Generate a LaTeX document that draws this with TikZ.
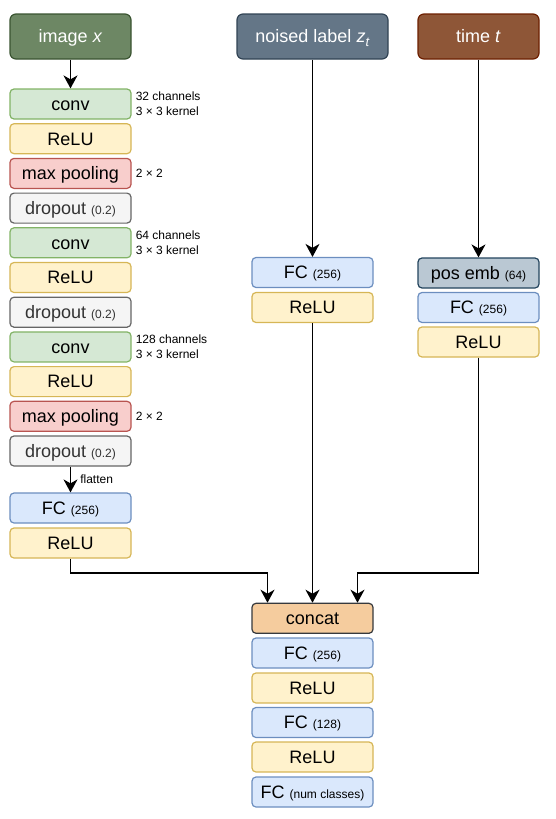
\documentclass[tikz,border=0pt]{standalone}
\usepackage{fontspec}
\setmainfont{Liberation Sans}
\usetikzlibrary{arrows.meta,positioning,calc}
\definecolor{imgfill}{HTML}{6D8764}\definecolor{imgdraw}{HTML}{3A5431}
\definecolor{nzfill}{HTML}{647687}\definecolor{nzdraw}{HTML}{314354}
\definecolor{tmfill}{HTML}{8E5637}\definecolor{tmdraw}{HTML}{6D1F00}
\definecolor{convfill}{HTML}{D5E8D4}\definecolor{convdraw}{HTML}{82B366}
\definecolor{relufill}{HTML}{FFF2CC}\definecolor{reludraw}{HTML}{D6B656}
\definecolor{poolfill}{HTML}{F8CECC}\definecolor{pooldraw}{HTML}{B85450}
\definecolor{dropfill}{HTML}{F5F5F5}\definecolor{dropdraw}{HTML}{666666}
\definecolor{fcfill}{HTML}{DAE8FC}\definecolor{fcdraw}{HTML}{6C8EBF}
\definecolor{pefill}{HTML}{BAC8D3}\definecolor{pedraw}{HTML}{23445D}
\definecolor{catfill}{HTML}{F5CC9E}\definecolor{catdraw}{HTML}{36393D}
\definecolor{txtgray}{HTML}{333333}
\newcommand\smtxt[1]{{\fontsize{12}{14}\selectfont #1}}
\begin{document}
\begin{tikzpicture}[x=1pt,y=-1pt,
  blk/.style={rectangle,rounded corners=4pt,minimum width=121pt,minimum height=30pt,
    inner sep=0pt,line width=1.2pt,font=\fontsize{18}{20}\selectfont,
    text height=12.6pt,text depth=0pt},
  hdr/.style={blk,minimum height=45pt,rounded corners=6pt,text=white},
  convbox/.style={blk,fill=convfill,draw=convdraw},
  relubox/.style={blk,fill=relufill,draw=reludraw},
  poolbox/.style={blk,fill=poolfill,draw=pooldraw},
  dropbox/.style={blk,fill=dropfill,draw=dropdraw,text=txtgray},
  fcbox/.style={blk,fill=fcfill,draw=fcdraw},
  pebox/.style={blk,fill=pefill,draw=pedraw},
  catbox/.style={blk,fill=catfill,draw=catdraw},
  side/.style={anchor=west,inner sep=0pt,align=left,font=\fontsize{12}{15}\selectfont},
  arr/.style={line width=1.5pt,-{Stealth[length=13pt,width=14pt,inset=4pt]}}]
\useasboundingbox (0,0) rectangle (556,819);
% headers
\node[hdr,fill=imgfill,draw=imgdraw] (imgx) at (70.5,36.5) {image \textit{x}};
\node[hdr,fill=nzfill,draw=nzdraw,minimum width=151pt] (noised) at (312.5,36.5) {noised label \textit{z}\raisebox{-0.4ex}{\fontsize{13}{13}\selectfont\textit{t}}};
\node[hdr,fill=tmfill,draw=tmdraw] (timet) at (478.5,36.5) {time \textit{t}};
% left column
\node[convbox] (conv1) at (70.5,104) {conv};
\node[relubox] (relua) at (70.5,138.7) {ReLU};
\node[poolbox] (pool1) at (70.5,173.4) {max pooling};
\node[dropbox] (drop1) at (70.5,208.1) {dropout \smtxt{(0.2)}};
\node[convbox] (conv2) at (70.5,242.8) {conv};
\node[relubox] (relub) at (70.5,277.5) {ReLU};
\node[dropbox] (drop2) at (70.5,312.2) {dropout \smtxt{(0.2)}};
\node[convbox] (conv3) at (70.5,346.9) {conv};
\node[relubox] (reluc) at (70.5,381.6) {ReLU};
\node[poolbox] (pool2) at (70.5,416.3) {max pooling};
\node[dropbox] (drop3) at (70.5,451) {dropout \smtxt{(0.2)}};
\node[fcbox] (fca) at (70.5,508) {FC \smtxt{(256)}};
\node[relubox] (relud) at (70.5,543) {ReLU};
% side labels
\node[side] (s1) at ([xshift=4pt]conv1.east) {32 channels\\3 × 3 kernel};
\node[side] (s2) at ([xshift=4pt]pool1.east) {2 × 2};
\node[side] (s3) at ([xshift=4pt]conv2.east) {64 channels\\3 × 3 kernel};
\node[side] (s4) at ([xshift=4pt]conv3.east) {128 channels\\3 × 3 kernel};
\node[side] (s5) at ([xshift=4pt]pool2.east) {2 × 2};
% middle column
\node[fcbox] (fcb) at (312.5,272.5) {FC \smtxt{(256)}};
\node[relubox] (relue) at (312.5,307.5) {ReLU};
% right column
\node[pebox] (pe) at (478.5,273) {pos emb \smtxt{(64)}};
\node[fcbox] (fcc) at (478.5,307.5) {FC \smtxt{(256)}};
\node[relubox] (reluf) at (478.5,342) {ReLU};
% bottom column
\node[catbox] (cat) at (312.5,618.3) {concat};
\node[fcbox] (fcd) at (312.5,653) {FC \smtxt{(256)}};
\node[relubox] (relug) at (312.5,688) {ReLU};
\node[fcbox] (fce) at (312.5,722.5) {FC \smtxt{(128)}};
\node[relubox] (reluh) at (312.5,757) {ReLU};
\node[fcbox] (fcf) at (312.5,792) {FC \smtxt{(num classes)}};
% connectors
\coordinate (jn) at (0,573);
\draw[arr] (imgx) -- (conv1);
\draw[arr] (drop3) -- (fca) node[midway,anchor=west,xshift=9pt,inner sep=0pt,font=\fontsize{12}{14}\selectfont] (fl) {flatten};
\draw[arr] (noised) -- (fcb);
\draw[arr] (timet) -- (pe);
\draw[arr] (relud.south) -- (relud.south |- jn) -| ([xshift=-45pt]cat.north);
\draw[arr] (relue) -- (cat);
\draw[arr] (reluf.south) -- (reluf.south |- jn) -| ([xshift=45pt]cat.north);
\end{tikzpicture}
\end{document}
